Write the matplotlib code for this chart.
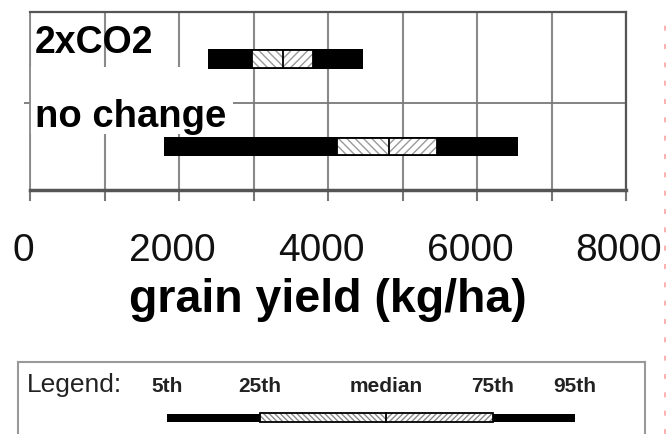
import matplotlib
matplotlib.use("Agg")
import matplotlib.pyplot as plt
import matplotlib.transforms as mtransforms
from matplotlib.patches import Rectangle
from matplotlib.lines import Line2D
import numpy as np

plt.rcParams['font.family'] = ['Liberation Sans', 'DejaVu Sans']
plt.rcParams['hatch.linewidth'] = 1.0

# ---- data ----
scenarios = ["no change", "2xCO2"]
p5 = [1800, 2390]
p25 = [4120, 2980]
p50 = [4820, 3400]
p75 = [5460, 3800]
p95 = [6550, 4470]
xticks = [0, 2000, 4000, 6000, 8000]
xlabel = "grain yield (kg/ha)"
legend_names = ["5th", "25th", "median", "75th", "95th"]
legend_example = [1840, 3090, 4780, 6215, 7315]

W, H = 667, 435
fig = plt.figure(figsize=(W / 100, H / 100), dpi=100)
ax = fig.add_axes([30 / W, 1 - 191 / H, 596 / W, 178 / H])

ypos = np.arange(len(scenarios)) + 0.5
ax.set_xlim(0, 8000)
ax.set_ylim(0, 2.04)

grid_c = '#8a8a8a'
for v in range(0, 8001, 1000):
    ax.axvline(v, color=grid_c, lw=1.5, zorder=0)
ax.axhline(1, color='#7a7a7a', lw=1.3, zorder=0)

# white background behind the "no change" label
ax.add_patch(Rectangle((0, (191 - 135) / 178), (233 - 30) / 596, (135 - 68) / 178,
                       transform=ax.transAxes, facecolor='white', edgecolor='none', zorder=1))

bar_h = 0.225
box_h = 0.2
for i in range(len(scenarios)):
    y = ypos[i]
    ax.barh(y, p95[i] - p5[i], left=p5[i], height=bar_h, color='black', zorder=3)
    ax.barh(y, p50[i] - p25[i], left=p25[i], height=box_h, color='white',
            edgecolor='#9a9a9a', hatch='\\\\\\\\', lw=0, zorder=4)
    ax.barh(y, p75[i] - p50[i], left=p50[i], height=box_h, color='white',
            edgecolor='#9a9a9a', hatch='////', lw=0, zorder=4)
    ax.barh(y, p75[i] - p25[i], left=p25[i], height=box_h, facecolor='none',
            edgecolor='black', lw=1.3, zorder=5)
    ax.plot([p50[i], p50[i]], [y - box_h / 2, y + box_h / 2], color='black', lw=1.3, zorder=6)

# category labels
ax.text(0.008, (191 - 53) / 178, scenarios[1], transform=ax.transAxes, fontsize=27,
        fontweight='bold', ha='left', va='baseline', zorder=7)
ax.text(0.008, (191 - 127) / 178, scenarios[0], transform=ax.transAxes, fontsize=27.5,
        fontweight='bold', ha='left', va='baseline', zorder=7)

ax.set_xticks(xticks)
ax.set_xticks(range(1000, 8000, 2000), minor=True)
ax.set_xticklabels([str(t) for t in xticks], fontsize=28, color='#111111')
ax.set_yticks([1])
ax.set_yticklabels([])
ax.tick_params(axis='x', which='both', length=8, width=1.5, color='#777777', pad=22)
ax.tick_params(axis='y', length=4, width=1.3, color='#777777')
ax.set_xlabel(xlabel, fontsize=33.5, fontweight='bold', labelpad=7)

for s in ['top', 'right']:
    ax.spines[s].set_color('#555555')
    ax.spines[s].set_linewidth(1.6)
ax.spines['left'].set_color('#888888')
ax.spines['left'].set_linewidth(1.3)
ax.spines['bottom'].set_color('#555555')
ax.spines['bottom'].set_linewidth(2.5)

off = mtransforms.ScaledTranslation(-7 / 100, 0, fig.dpi_scale_trans)
for lab in ax.get_xticklabels():
    lab.set_transform(lab.get_transform() + off)

# ---- legend panel ----
lax = fig.add_axes([18 / W, -0.1, 627 / W, (H - 363) / H + 0.1])
lax.set_xlim((18 - 30) / 0.0745, (645 - 30) / 0.0745)
lax.set_ylim(H + 0.1 * H, 363)
lax.set_xticks([])
lax.set_yticks([])
for s in lax.spines.values():
    s.set_color('#999999')
    s.set_linewidth(1.5)

lax.text(0.014, 392, "Legend:", transform=lax.get_yaxis_transform(), fontsize=19,
         ha='left', va='baseline', color='#222222')
for name, v in zip(legend_names, legend_example):
    lax.text(v, 387, name, fontsize=15, fontweight='bold', ha='center', va='center',
             color='#222222')
ly = 419
lax.barh(ly, legend_example[4] - legend_example[0], left=legend_example[0], height=8,
         color='black', zorder=3)
lax.barh(ly, legend_example[2] - legend_example[1], left=legend_example[1], height=9,
         color='white', edgecolor='#8a8a8a', hatch='\\\\\\\\\\\\', lw=0, zorder=4)
lax.barh(ly, legend_example[3] - legend_example[2], left=legend_example[2], height=9,
         color='white', edgecolor='#8a8a8a', hatch='//////', lw=0, zorder=4)
lax.barh(ly, legend_example[3] - legend_example[1], left=legend_example[1], height=9,
         facecolor='none', edgecolor='black', lw=1.3, zorder=5)
lax.plot([legend_example[2]] * 2, [ly - 4.5, ly + 4.5], color='black', lw=1.3, zorder=6)

# faint red dashed page edge at right
fig.add_artist(Line2D([665 / W, 665 / W], [0, 0.95], transform=fig.transFigure,
                      color='#ff6666', lw=1.2, ls=(0, (3, 8)), alpha=0.6))

fig.savefig("out.png", dpi=100)
